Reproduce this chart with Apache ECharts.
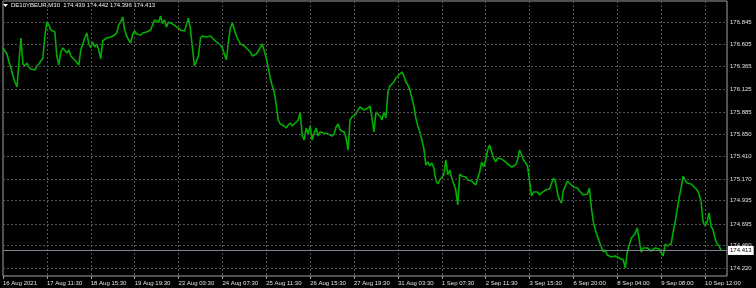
<!DOCTYPE html>
<html>
<head>
<meta charset="utf-8">
<script src="https://cdn.jsdelivr.net/npm/echarts@6/dist/echarts.min.js"></script>
<style>
html,body{margin:0;padding:0;background:#000;}
#chart{width:756px;height:288px;}
</style>
</head>
<body>
<div id="chart"></div>
<script>
const chartTitle = 'DE10YBEUR,M30  174.439 174.442 174.396 174.413';
const xLabels = ['16 Aug 2021','17 Aug 11:30','18 Aug 15:30','19 Aug 19:30','23 Aug 03:30','24 Aug 07:30','25 Aug 11:30','26 Aug 15:30','27 Aug 19:30','31 Aug 03:30','1 Sep 07:30','2 Sep 11:30','3 Sep 15:30','6 Sep 20:00','8 Sep 04:00','9 Sep 08:00','10 Sep 12:00'];
const priceTicks = [176.845,176.605,176.365,176.125,175.885,175.650,175.410,175.170,174.935,174.695,174.460,174.220];
const priceTickLabels = ['176.845','176.605','176.365','176.125','175.885','175.650','175.410','175.170','174.935','174.695','174.460','174.220'];
const lastPrice = 174.413;
const closes = [
176.565,176.544,176.501,176.416,176.352,176.267,176.203,176.150,176.416,176.671,
176.395,176.373,176.405,176.363,176.341,176.352,176.331,176.373,176.395,176.416,
176.459,176.693,176.842,176.810,176.757,176.778,176.735,176.480,176.384,176.522,
176.565,176.576,176.512,176.544,176.480,176.459,176.437,176.427,176.384,176.544,
176.608,176.671,176.725,176.608,176.565,176.629,176.576,176.608,176.544,176.448,
176.640,176.650,176.671,176.650,176.682,176.671,176.703,176.725,176.810,176.842,
176.895,176.757,176.693,176.650,176.618,176.714,176.746,176.714,176.735,176.703,
176.725,176.714,176.735,176.725,176.757,176.778,176.863,176.884,176.842,176.906,
176.821,176.863,176.789,176.842,176.863,176.821,176.831,176.789,176.778,176.757,
176.767,176.746,176.757,176.884,176.757,176.565,176.373,176.352,176.480,176.671,
176.693,176.714,176.682,176.703,176.693,176.671,176.650,176.629,176.618,176.597,
176.565,176.576,176.437,176.629,176.778,176.831,176.757,176.693,176.650,176.608,
176.629,176.586,176.565,176.544,176.522,176.480,176.491,176.501,176.533,176.544,
176.608,176.629,176.459,176.352,176.246,176.161,176.097,175.958,175.799,175.756,
175.777,175.735,175.713,175.745,175.767,175.735,175.756,175.777,175.799,175.873,
175.639,175.586,175.713,175.650,175.735,175.586,175.660,175.713,175.628,175.671,
175.682,175.660,175.671,175.650,175.639,175.628,175.650,175.724,175.756,175.692,
175.713,175.671,175.607,175.479,175.799,175.831,175.841,175.862,175.905,175.937,
175.926,175.905,175.916,175.926,175.948,175.820,175.671,175.884,175.905,175.841,
175.799,175.884,175.820,176.097,176.161,176.182,176.203,176.246,176.256,176.288,
176.310,176.267,176.203,176.171,176.118,176.033,175.948,175.820,175.735,175.671,
175.586,175.501,175.320,175.352,175.309,175.341,175.288,175.160,175.117,175.160,
175.181,175.213,175.373,175.213,175.266,175.181,175.202,175.053,174.894,175.224,
175.202,175.181,175.192,175.160,175.181,175.149,175.128,175.107,175.128,175.245,
175.352,175.298,175.373,175.479,175.532,175.458,175.394,175.352,175.394,175.373,
175.383,175.373,175.352,175.330,175.320,175.298,175.288,175.320,175.373,175.479,
175.458,175.373,175.352,175.309,175.288,174.990,175.032,175.011,175.032,175.000,
175.022,175.043,175.053,175.032,175.064,175.053,175.181,175.139,175.022,174.947,
174.915,175.053,175.096,175.149,175.139,175.107,175.085,175.096,175.075,175.043,
175.022,175.000,174.990,175.011,175.075,174.862,174.713,174.628,174.564,174.500,
174.447,174.393,174.415,174.362,174.372,174.340,174.330,174.351,174.362,174.330,
174.340,174.308,174.223,174.393,174.468,174.542,174.564,174.596,174.649,174.521,
174.393,174.436,174.457,174.436,174.415,174.404,174.425,174.436,174.415,174.425,
174.436,174.351,174.479,174.457,174.447,174.479,174.606,174.713,174.841,174.968,
175.075,175.202,175.160,175.128,175.149,175.117,175.096,175.075,175.053,175.011,
174.926,174.713,174.670,174.713,174.809,174.670,174.628,174.542,174.479,174.457,
174.413
];

const FONT = 'Liberation Sans';
const chart = echarts.init(document.getElementById('chart'), null, {renderer: 'canvas'});

const gridMarks = priceTicks.map((v, k) => ({
  yAxis: v,
  lineStyle: {color: '#555', type: [2, 2], width: 1},
  label: {show: true, position: 'end', distance: 3, formatter: priceTickLabels[k],
          color: '#e0e0e0', fontSize: 6, fontFamily: FONT}
}));
gridMarks.push({
  yAxis: lastPrice,
  lineStyle: {color: '#7a8896', type: 'solid', width: 1},
  label: {show: true, position: 'end', distance: 1, formatter: lastPrice.toFixed(3),
          color: '#000', backgroundColor: '#fff', padding: [2, 2, 1, 2],
          fontSize: 6, fontFamily: FONT}
});

chart.setOption({
  backgroundColor: '#000',
  animation: false,
  grid: {left: 1, top: 1, width: 726, height: 275, show: true,
         borderColor: '#a0a0a0', borderWidth: 1, backgroundColor: 'transparent'},
  graphic: [
    {type: 'polygon', shape: {points: [[3, 4], [8, 4], [5.5, 7]]}, style: {fill: '#fff'}},
    {type: 'text', left: 11, top: 2, style: {text: chartTitle, fill: '#f0f0f0',
      font: '6px "' + FONT + '"'}}
  ],
  xAxis: {
    type: 'value', min: 0, max: 363, interval: 22,
    axisLine: {show: false},
    axisTick: {show: true, length: 3, lineStyle: {color: '#a0a0a0'}},
    axisLabel: {
      show: true, align: 'left', margin: 4, color: '#e0e0e0', fontSize: 6, fontFamily: FONT,
      showMaxLabel: false,
      formatter: v => (Math.abs(v / 22 - Math.round(v / 22)) < 1e-6 ? (xLabels[Math.round(v / 22)] || '') : '')
    },
    splitLine: {show: true, lineStyle: {color: '#555', type: [2, 2], width: 1}}
  },
  yAxis: {
    type: 'value', min: 174.138, max: 177.065, position: 'right',
    axisLine: {show: false}, axisTick: {show: false}, axisLabel: {show: false},
    splitLine: {show: false}
  },
  series: [{
    type: 'line',
    data: closes.map((v, i) => [i, v]),
    showSymbol: false,
    symbol: 'none',
    lineStyle: {color: '#00b000', width: 1.6},
    markLine: {silent: true, symbol: 'none', animation: false, data: gridMarks}
  }]
});
</script>
</body>
</html>
